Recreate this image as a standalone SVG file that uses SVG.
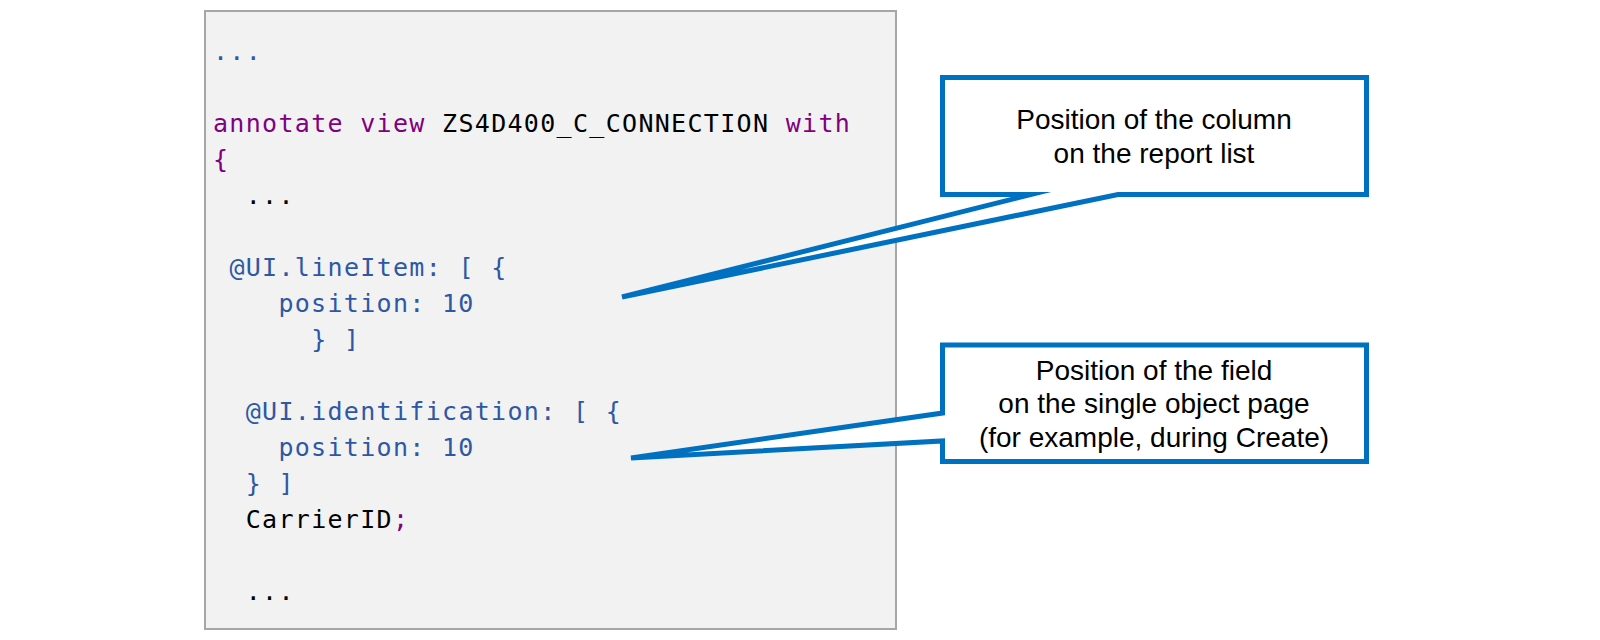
<svg xmlns="http://www.w3.org/2000/svg" width="1600" height="640" viewBox="0 0 1600 640">
<style>
.code{font-family:"DejaVu Sans Mono","Liberation Mono",monospace;font-size:25px;letter-spacing:1.31px}
.kw{fill:#800080}
.bl{fill:#2e58a3}
.bk{fill:#000000}
.lbl{font-family:"Liberation Sans",Arial,sans-serif;font-size:28px;fill:#000;text-anchor:middle}
.callout{fill:#ffffff;stroke:#0070c0;stroke-width:5;stroke-linejoin:miter;stroke-miterlimit:10}
</style>
<rect width="1600" height="640" fill="#ffffff"/>
<g id="code-box">
<rect x="205" y="11" width="691" height="618" fill="#f2f2f2" stroke="#a6a6a6" stroke-width="2"/>
<text class="code bl" x="213" y="60">...</text>
<text class="code" x="213" y="132"><tspan class="kw">annotate view </tspan><tspan class="bk">ZS4D400_C_CONNECTION</tspan><tspan class="kw"> with</tspan></text>
<text class="code kw" x="213" y="168">{</text>
<text class="code bk" x="245.7" y="204">...</text>
<text class="code bl" x="229.4" y="276">@UI.lineItem: [ {</text>
<text class="code bl" x="278.4" y="312">position: 10</text>
<text class="code bl" x="311.2" y="348">} ]</text>
<text class="code bl" x="245.7" y="420">@UI.identification: [ {</text>
<text class="code bl" x="278.4" y="456">position: 10</text>
<text class="code bl" x="245.7" y="492">} ]</text>
<text class="code" x="245.7" y="528"><tspan class="bk">CarrierID</tspan><tspan class="kw">;</tspan></text>
<text class="code bk" x="245.7" y="600">...</text>
</g>
<g id="connectors"></g>
<g id="callout-column">
<path class="callout" d="M942.5,77.5 H1366.5 V194.5 H1118 L622,297 L1031,194.5 H942.5 Z"/>
<text class="lbl" x="1154" y="129">Position of the column</text>
<text class="lbl" x="1154" y="163">on the report list</text>
</g>
<g id="callout-field">
<path class="callout" d="M942.5,345 H1366.5 V461.5 H942.5 V441 L631,458 L942.5,413 Z"/>
<text class="lbl" x="1154" y="380">Position of the field</text>
<text class="lbl" x="1154" y="413">on the single object page</text>
<text class="lbl" x="1154" y="447">(for example, during Create)</text>
</g>
</svg>
